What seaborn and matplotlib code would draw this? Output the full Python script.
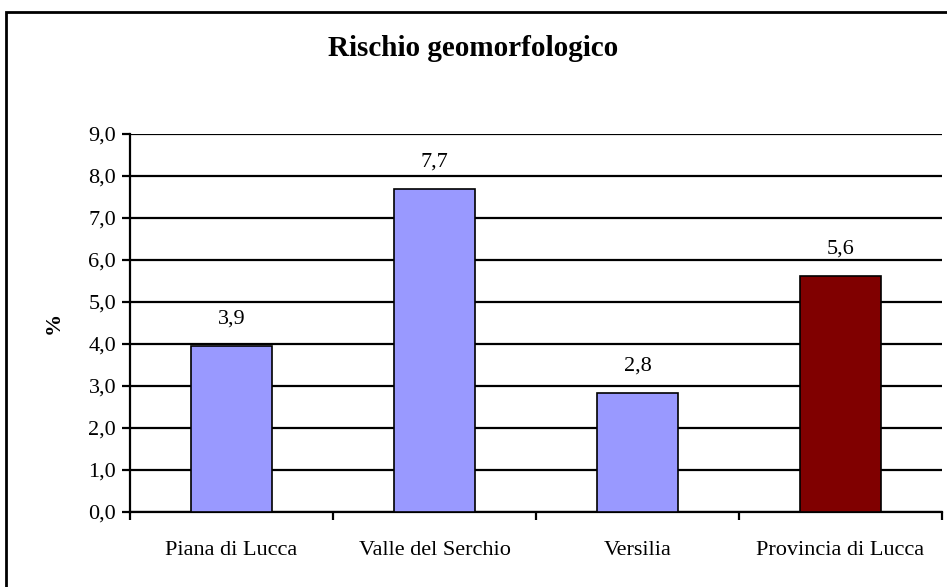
import matplotlib
matplotlib.use("Agg")
import matplotlib.pyplot as plt
import matplotlib.patches as mpatches
import numpy as np
import pandas as pd
import seaborn as sns

# data
zones = ['Piana di Lucca', 'Valle del Serchio', 'Versilia', 'Provincia di Lucca']
risk_pct = [3.94, 7.68, 2.84, 5.61]
bar_colors = ['#9999FF', '#9999FF', '#9999FF', '#800000']
y_ticks = [0, 1, 2, 3, 4, 5, 6, 7, 8, 9]

sns.set_theme(style="white")
plt.rcParams['font.family'] = ['Liberation Serif', 'DejaVu Serif']
plt.rcParams['text.color'] = 'black'
plt.rcParams['xtick.color'] = 'black'
plt.rcParams['ytick.color'] = 'black'
plt.rcParams['axes.labelcolor'] = 'black'

df = pd.DataFrame({'zona': zones, 'pct': risk_pct})

fig = plt.figure(figsize=(9.47, 5.87), dpi=100)
ax = fig.add_axes([0.1373, 0.1278, 0.8574, 0.6440])

# outer frame of the chart area
fig.patches.append(mpatches.Rectangle((0.006, -0.05), 1.05, 1.03, transform=fig.transFigure,
                                      fill=False, edgecolor='black', linewidth=2, zorder=10))

sns.barplot(data=df, x='zona', y='pct', hue='zona', palette=dict(zip(zones, bar_colors)),
            saturation=1, width=0.4, edgecolor='black', linewidth=1.2, legend=False,
            ax=ax, zorder=3)

# value labels with decimal comma
for i, v in enumerate(risk_pct):
    ax.annotate(f"{v:.1f}".replace('.', ','), (i, v), xytext=(0, 19.5), textcoords='offset points',
                ha='center', va='center', fontsize=16)

ax.set_ylim(0, 9)
ax.set_xlim(-0.5, len(zones) - 0.5)
ax.set_yticks(y_ticks)
ax.set_yticklabels([f"{t:.1f}".replace('.', ',') for t in y_ticks], fontsize=16)
ax.yaxis.grid(True, color='black', linewidth=1.6)
ax.set_axisbelow(True)

# category ticks sit between the bars
ax.set_xticks(np.arange(len(zones)))
ax.set_xticklabels(zones, fontsize=16)
ax.set_xticks(np.arange(len(zones) + 1) - 0.5, minor=True)
ax.tick_params(axis='x', which='major', length=0, pad=21)
ax.tick_params(axis='x', which='minor', length=6, width=1.6, color='black', direction='out', bottom=True)
ax.tick_params(axis='y', length=6, width=1.6, color='black', direction='out', left=True, pad=4)

for side in ['top', 'right']:
    ax.spines[side].set_visible(False)
for side in ['left', 'bottom']:
    ax.spines[side].set_color('black')
    ax.spines[side].set_linewidth(1.6)

ax.set_xlabel('')
ax.set_ylabel('%', fontsize=16, fontweight='bold', labelpad=18)
fig.text(0.5, 0.918, 'Rischio geomorfologico', ha='center', va='center',
         fontsize=21, fontweight='bold')

fig.savefig('out.png', dpi=100)
